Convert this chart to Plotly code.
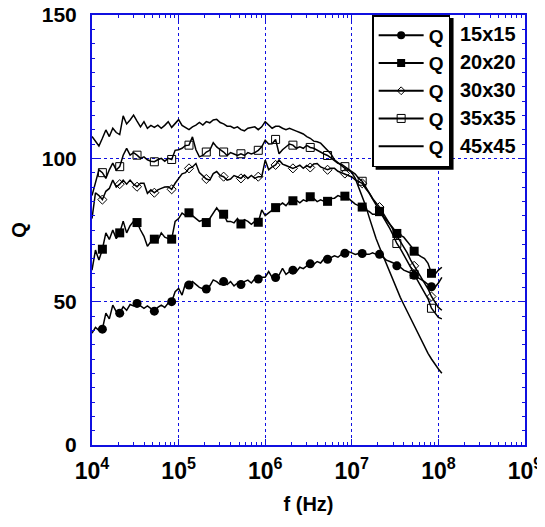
import plotly.graph_objects as go

# log10 of frequency (Hz) at which Q was sampled
freq_exp = [
    4.00, 4.04, 4.08, 4.12, 4.16, 4.20, 4.24, 4.28, 4.32, 4.36,
    4.40, 4.44, 4.48, 4.52, 4.56, 4.60, 4.64, 4.68, 4.72, 4.76,
    4.80, 4.84, 4.88, 4.92, 4.96, 5.00, 5.04, 5.08, 5.12, 5.16,
    5.20, 5.24, 5.28, 5.32, 5.36, 5.40, 5.44, 5.48, 5.52, 5.56,
    5.60, 5.64, 5.68, 5.72, 5.76, 5.80, 5.84, 5.88, 5.92, 5.96,
    6.00, 6.04, 6.08, 6.12, 6.16, 6.20, 6.24, 6.28, 6.32, 6.36,
    6.40, 6.44, 6.48, 6.52, 6.56, 6.60, 6.64, 6.68, 6.72, 6.76,
    6.80, 6.84, 6.88, 6.92, 6.96, 7.00, 7.04, 7.08, 7.12, 7.16,
    7.20, 7.24, 7.28, 7.32, 7.36, 7.40, 7.44, 7.48, 7.52, 7.56,
    7.60, 7.64, 7.68, 7.72, 7.76, 7.80, 7.84, 7.88, 7.92, 7.96,
    8.00, 8.04,
]
freq_hz = [10 ** e for e in freq_exp]

q_15x15 = [
    39, 41, 40, 40.4, 46, 44, 48.8, 46.5, 46.0, 48.2,
    47, 49, 48.5, 49.4, 48.5, 47.7, 48.5, 47.5, 46.7, 48,
    48.8, 48, 49.5, 50.0, 53.5, 54.6, 52.3, 56.4, 55.8, 57,
    56, 55, 54.5, 54.4, 55.5, 57.6, 57, 56, 57.0, 56,
    57, 55.5, 56.5, 56.0, 57, 57.5, 56.5, 58, 57.9, 58.5,
    58.5, 60.5, 58.5, 58.4, 59.3, 61.6, 59.5, 60.5, 61.0, 60.5,
    62, 61.5, 62.5, 63.2, 63, 64, 63.5, 65, 64.8, 65.5,
    66, 65.5, 66.5, 66.9, 67.5, 67, 66.5, 66.8, 66.8, 66.5,
    66.5, 67, 66.5, 66.5, 65.5, 64.5, 64, 63.5, 62.5, 62,
    61, 60.5, 60, 59.2, 58.5, 57.5, 57, 56, 55.2, 55,
    56.5, 58.5,
]
q_20x20 = [
    61, 68, 64.5, 68.3, 74, 71.7, 75, 72, 74.0, 78.1,
    74, 76.5, 78, 77.6, 75, 72.8, 69.3, 71, 71.8, 71.5,
    74, 72.5, 72, 71.8, 78, 79, 80.9, 80, 81.0, 80,
    79.1, 78, 78.5, 77.6, 79, 80.9, 82.7, 81, 80.5, 78,
    78, 77.5, 79, 77.1, 78.6, 78, 77, 78, 77.7, 82,
    80, 81, 82, 82.8, 83.5, 84.4, 83.5, 85, 85.2, 85.4,
    84.5, 85.5, 85, 86.6, 86, 84.9, 85.5, 85, 85.0, 86,
    86.1, 87, 86.5, 86.8, 86, 85, 84, 83.5, 83.0, 82,
    81.5, 80.5, 80.5, 81.4, 80, 78.5, 77, 75.5, 73.8, 73,
    72.5, 71, 69.5, 67.6, 66.5, 65.7, 65, 63.4, 59.9, 59.5,
    61, 62,
]
q_30x30 = [
    79, 88, 87, 85.6, 88.5, 89.5, 92.4, 90, 91.0, 92.4,
    91, 92.4, 91, 90.1, 91.3, 91.3, 87.8, 89, 88.0, 89,
    89.5, 90, 90.1, 89.2, 91.3, 93, 94.6, 95, 96.5, 97,
    98.2, 95, 94, 92.8, 92.4, 94.7, 95.4, 94, 93.6, 92.4,
    92.8, 94, 93.5, 93.0, 94.2, 93, 94, 93, 93.6, 93.6,
    99.4, 96, 97, 97.7, 99.4, 98, 97.5, 97, 96.5, 97,
    97.6, 96.5, 97.5, 96.8, 98, 98.2, 97, 96.5, 96.0, 96.5,
    96.5, 95.5, 95, 94.7, 94, 93.5, 92.5, 92, 91.3, 89.5,
    88, 86, 84.5, 83, 81, 79, 77, 75, 73.5, 71,
    69, 67, 64.5, 62.5, 60.5, 58.5, 56.5, 54.5, 51.8, 50,
    48, 47,
]
q_35x35 = [
    87, 92, 96, 95.0, 93, 96, 98.3, 95.9, 97.1, 101.1,
    103.5, 101.1, 102, 101.1, 100, 100.5, 99.5, 99, 98.8, 99.5,
    100, 99, 100, 99.6, 102.8, 103, 103.5, 104.5, 104.6, 107.5,
    103, 100.5, 101, 102.2, 102.8, 105.5, 104, 103, 102.2, 101,
    102, 101.5, 101, 101.6, 101, 102, 101.5, 102, 102.8, 104,
    106.3, 105, 105.1, 106.6, 101.6, 103, 104, 105, 104.6, 103.5,
    104, 103.5, 104.5, 103.8, 103.5, 102.8, 102, 101.5, 101.0, 100,
    99, 98.3, 98, 97.1, 96.5, 95.5, 94.5, 93, 92.0, 90,
    88, 86, 84, 81.5, 79.5, 77.5, 75.5, 73, 70.3, 68.5,
    66.5, 64, 62, 59.5, 57.5, 55.5, 53.5, 51, 47.7, 46,
    44.5, 44,
]
q_45x45 = [
    107.6, 106, 104.3, 107, 109.9, 107.6, 110.5, 109, 108.3, 114.8,
    112, 113.4, 115.1, 113, 111, 112.8, 110.5, 111.5, 110.8, 111.6,
    110.5, 111.5, 112.8, 110.8, 112, 113.5, 111.5, 110.8, 110, 111,
    111.6, 112.5, 111.6, 112.8, 112.4, 113.4, 113.6, 112.5, 112, 111.2,
    111.2, 110.5, 111, 110, 109.6, 110.5, 110.8, 111, 110, 111,
    112.8, 111.5, 110.5, 111.2, 111.2, 110.5, 110, 110.5, 109.9, 109.5,
    109, 108.5, 107.6, 107, 106, 105.8, 105.3, 104, 102.5, 101.5,
    99.5, 98.4, 97.5, 96.5, 96, 95, 93, 90, 87, 83.5,
    79.5, 75.5, 72, 69, 66, 63, 60.5, 57.5, 54.5, 51.5,
    49, 46.5, 44, 41.5, 39, 36.5, 34, 32, 30, 28,
    26.5, 25,
]

series_labels = ["15x15", "20x20", "30x30", "35x35", "45x45"]
series_values = [q_15x15, q_20x20, q_30x30, q_35x35, q_45x45]
legend_name = "Q"

x_tick_vals = [1e4, 1e5, 1e6, 1e7, 1e8, 1e9]
x_tick_text = ["10<sup>4</sup>", "10<sup>5</sup>", "10<sup>6</sup>",
               "10<sup>7</sup>", "10<sup>8</sup>", "10<sup>9</sup>"]
y_tick_vals = [0, 50, 100, 150]

# marker style per series (None = plain line)
marker_styles = [
    dict(symbol="circle", size=9, color="black"),
    dict(symbol="square", size=9, color="black"),
    dict(symbol="diamond-open", size=7, color="black", line=dict(width=1, color="black")),
    dict(symbol="square-open", size=8, color="black", line=dict(width=1, color="black")),
    None,
]
legend_marker_styles = [
    dict(symbol="circle", size=8, color="black"),
    dict(symbol="square", size=8, color="black"),
    dict(symbol="diamond-open", size=6, color="black", line=dict(width=1, color="black")),
    dict(symbol="square-open", size=8, color="black", line=dict(width=1, color="black")),
    None,
]
MARK_START, MARK_STEP = 3, 5

BLUE = "#1010e0"
FONT = "Liberation Sans, Arial, sans-serif"

fig = go.Figure()
for label, q, ms, lms in zip(series_labels, series_values, marker_styles, legend_marker_styles):
    fig.add_trace(go.Scatter(
        x=freq_hz, y=q, mode="lines",
        line=dict(color="black", width=1.5),
        showlegend=False, hoverinfo="skip"))
    if ms is not None:
        fig.add_trace(go.Scatter(
            x=freq_hz[MARK_START::MARK_STEP], y=q[MARK_START::MARK_STEP],
            mode="markers", marker=ms, showlegend=False, hoverinfo="skip"))
    fig.add_trace(go.Scatter(
        x=[None], y=[None],
        mode="lines+markers" if lms is not None else "lines",
        marker=lms if lms is not None else dict(),
        line=dict(color="black", width=2),
        name=legend_name, showlegend=True))

row_y0, row_step = 0.955, 0.065
for i, label in enumerate(series_labels):
    fig.add_annotation(
        xref="paper", yref="paper", x=0.845, y=row_y0 - i * row_step,
        xanchor="left", yanchor="middle", showarrow=False,
        text=label, font=dict(family=FONT, size=20, color="black", weight="bold"))

axis_common = dict(
    showline=True, linecolor=BLUE, linewidth=2, mirror="ticks",
    ticks="inside", tickcolor=BLUE, tickwidth=1,
    showgrid=True, gridcolor=BLUE, griddash="dot", gridwidth=1,
    zeroline=False, automargin=False, ticklabeloverflow="allow",
)
title_font = dict(family=FONT, size=20, color="black", weight="bold")

fig.update_xaxes(
    type="log", range=[4, 9], tickvals=x_tick_vals, ticktext=x_tick_text, ticklen=6,
    minor=dict(ticks="inside", ticklen=3, tickcolor=BLUE, showgrid=False, dtick="D1"),
    tickfont=dict(family=FONT, size=23, color="black", weight="bold"),
    ticklabelstandoff=4,
    title=dict(text="f (Hz)", font=title_font, standoff=14),
    **axis_common)
fig.update_yaxes(
    range=[0, 150], tickvals=y_tick_vals, ticklen=6,
    minor=dict(ticks="inside", ticklen=3, tickcolor=BLUE, showgrid=False, dtick=5),
    tickfont=dict(family=FONT, size=21, color="black", weight="bold"),
    ticklabelstandoff=9,
    title=dict(text="Q", font=title_font, standoff=16),
    **axis_common)

# drop shadow behind the legend box (legend itself is drawn above)
fig.add_shape(type="rect", xref="paper", yref="paper",
              x0=0.655, x1=0.835, y0=0.64, y1=0.993,
              fillcolor="black", line=dict(width=0), layer="above")

# the page adds an 8px body margin, so the figure is 8px smaller than the window
fig.update_layout(
    width=537, height=519,
    margin=dict(l=84, r=20, t=7, b=82),
    paper_bgcolor="white", plot_bgcolor="white",
    font=dict(family=FONT, color="black"),
    legend=dict(
        x=0.647, y=1.0, xanchor="left", yanchor="top",
        bgcolor="white", bordercolor="black", borderwidth=1.5,
        font=dict(family=FONT, size=19, color="black", weight="bold"),
        traceorder="normal", itemwidth=45,
    ),
)

fig.write_html("out.html")
